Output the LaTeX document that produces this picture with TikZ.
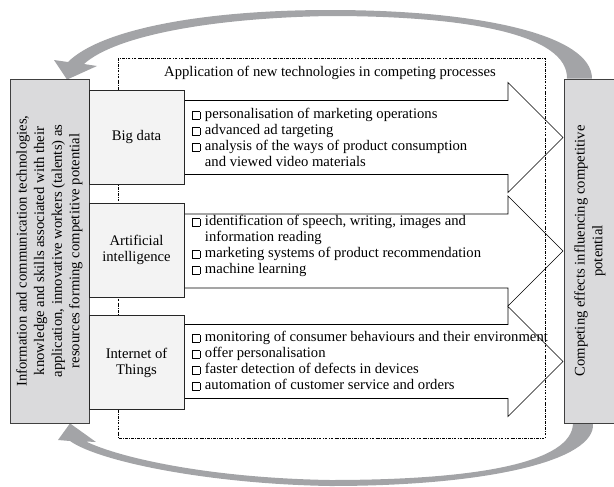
\documentclass[tikz,border=0pt]{standalone}
\usepackage{fontspec}
\setmainfont{Liberation Serif}
\usepackage{graphicx}
\usepackage{tikz}
\usetikzlibrary{positioning, calc}
\pgfdeclarelayer{background}
\pgfsetlayers{background,main}
\definecolor{sidegray}{RGB}{218,218,220}
\definecolor{techgray}{RGB}{243,243,243}
\definecolor{loopgray}{RGB}{163,164,167}
\newcommand{\sqbox}{{\fboxsep=0pt\fboxrule=0.4pt\fbox{\rule{0pt}{5.2pt}\hspace{5.2pt}}}}

\begin{document}
\begin{tikzpicture}[x=0.75pt, y=-0.75pt, font=\fontsize{11}{12}\selectfont,
  sidebox/.style={draw=black!75, line width=0.6pt, fill=sidegray, minimum height=258pt, inner sep=0pt},
  techbox/.style={draw=black!85, line width=0.6pt, fill=techgray, minimum width=71.25pt, minimum height=70.5pt, align=center},
  flowarrow/.style={draw=black, line width=0.5pt, fill=white},
  techframe/.style={line width=0.4pt, dash pattern=on 2pt off 1pt on 0.4pt off 1pt},
  looparrow/.style={fill=loopgray, draw=none},
  items/.style={anchor=west, inner sep=0pt, align=left}]
  \useasboundingbox (0,0) rectangle (614,486);

  \node[sidebox, minimum width=59.25pt] (res) at (49.5,251)
    {\rotatebox{90}{\renewcommand{\arraystretch}{1.1}\begin{tabular}{c}Information and communication technologies,\\ knowledge and skills associated with their\\ application, innovative workers (talents) as\\ resources forming competitive potential\end{tabular}}};
  \node[sidebox, minimum width=39pt] (effects) at (590,251)
    {\rotatebox{90}{\renewcommand{\arraystretch}{1.1}\begin{tabular}{c}Competing effects influencing competitive\\ potential\end{tabular}}};

  \node[techbox] (bigdata) at (136.5,137) {Big data};
  \node[techbox] (ai) at (136.5,250) {Artificial\\ intelligence};
  \node[techbox] (iot) at (136.5,362.5) {Internet of\\ Things};

  \begin{pgfonlayer}{background}
    \fill[looparrow] ($(effects.north)+(2,0)$) .. controls (592,35) and (480,10) .. (330,10)
      .. controls (200,10) and (100,30) .. (68,62) -- (54,60) -- ($(res.north)+(17.5,1)$) -- (97,66) -- (84,64)
      .. controls (115,36) and (210,18) .. (330,16) .. controls (470,16) and (568,35) .. ($(effects.north)+(-23,0)$) -- cycle;
    \fill[looparrow] ($(effects.south)+(-17,0)$) .. controls (572,462) and (480,480) .. (330,480)
      .. controls (210,478) and (120,458) .. (86,441.5) -- (96,442) -- ($(res.south)+(20.5,0)$) -- (58,440) -- (70,441)
      .. controls (100,462) and (210,484) .. (330,486) .. controls (490,486) and (596,460) .. ($(effects.south)+(3,0)$) -- cycle;
    \foreach \y in {137.5,251,361.5}
      \filldraw[flowarrow] (184,\y-37) -- (508,\y-37) -- (508,\y-55) -- (563,\y) -- (508,\y+55) -- (508,\y+37) -- (184,\y+37) -- cycle;
    \draw[techframe] (118,58) rectangle (545,438);
  \end{pgfonlayer}

  \node (title) at (330,73) {Application of new technologies in competing processes};

  \node[items] (bdlist) at (192,139.5) {\begin{tabular}{@{}l@{\hspace{3.5pt}}l@{}}
    \sqbox & personalisation of marketing operations\\
    \sqbox & advanced ad targeting\\
    \sqbox & analysis of the ways of product consumption\\
           & and viewed video materials\end{tabular}};
  \node[items] (ailist) at (192,246.5) {\begin{tabular}{@{}l@{\hspace{3.5pt}}l@{}}
    \sqbox & identification of speech, writing, images and\\
           & information reading\\
    \sqbox & marketing systems of product recommendation\\
    \sqbox & machine learning\end{tabular}};
  \node[items] (iotlist) at (192,362.5) {\begin{tabular}{@{}l@{\hspace{3.5pt}}l@{}}
    \sqbox & monitoring of consumer behaviours and their environment\\
    \sqbox & offer personalisation\\
    \sqbox & faster detection of defects in devices\\
    \sqbox & automation of customer service and orders\end{tabular}};
\end{tikzpicture}
\end{document}
